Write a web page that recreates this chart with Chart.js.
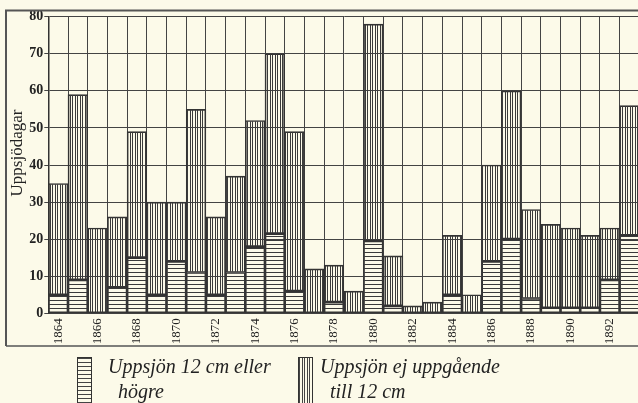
<!DOCTYPE html>
<html>
<head>
<meta charset="utf-8">
<script src="https://cdn.jsdelivr.net/npm/chart.js@4.4.0/dist/chart.umd.min.js"></script>
<style>
  html, body { margin: 0; padding: 0; background: #fcfae9; }
  #wrap { position: relative; width: 638px; height: 403px; overflow: hidden; }
  #c { position: absolute; left: 0; top: 0; }
  .sw { position: absolute; top: 357px; width: 15px; height: 50px; border: 1px solid #333; box-sizing: border-box; }
  .sw.h { background: repeating-linear-gradient(to bottom, #444 0 1px, transparent 1px 4px); }
  .sw.v { background: repeating-linear-gradient(to right, #444 0 1px, transparent 1px 2.5px); }
  .lg { position: absolute; font: italic 20px "Liberation Serif", serif; color: #222; line-height: 22px; white-space: nowrap; }
</style>
</head>
<body>
<div id="wrap">
  <canvas id="c" width="660" height="403"></canvas>
  <div class="sw h" style="left:77px"></div>
  <div class="lg" style="left:108px; top:355px">Uppsjön 12 cm eller</div>
  <div class="lg" style="left:118px; top:380px">högre</div>
  <div class="sw v" style="left:298px"></div>
  <div class="lg" style="left:320px; top:355px">Uppsjön ej uppgående</div>
  <div class="lg" style="left:330px; top:380px">till 12 cm</div>
</div>
<script>
// years on the x axis (the last one is cut off at the right edge)
const years = ['1864', '1865', '1866', '1867', '1868', '1869', '1870', '1871', '1872', '1873',
               '1874', '1875', '1876', '1877', '1878', '1879', '1880', '1881', '1882', '1883',
               '1884', '1885', '1886', '1887', '1888', '1889', '1890', '1891', '1892', '1893'];

// days with ice of 12 cm or more (horizontal hatch, bottom of each bar)
const hogre = [5, 9, 0, 7, 15, 5, 14, 11, 5, 11,
               18, 21.5, 6, 0, 3, 0, 19.5, 2, 0, 0,
               5, 0, 14, 20, 4, 1.5, 1.5, 1.5, 9, 21];

// days with ice below 12 cm (vertical hatch, stacked on top)
const lagre = [30, 50, 23, 19, 34, 25, 16, 44, 21, 26,
               34, 48.5, 43, 12, 10, 6, 58.5, 13.5, 2, 3,
               16, 5, 26, 40, 24, 22.5, 21.5, 19.5, 14, 35];

const yTitle = 'Uppsjödagar';

const ink = '#333';

// hatch fills
const hatch = (dir) => {
  const c = document.createElement('canvas');
  const g = c.getContext('2d');
  if (dir === 'h') {
    c.width = 4; c.height = 4;
    g.fillStyle = '#3a3a3a';
    g.fillRect(0, 0, 4, 1);
  } else {
    c.width = 5; c.height = 5;
    g.fillStyle = '#3a3a3a';
    g.fillRect(0, 0, 1, 5);
    g.fillRect(2, 0, 1, 5);
  }
  return g.createPattern(c, 'repeat');
};

// outer frame and rotated axis title
const framePlugin = {
  id: 'frame',
  afterDraw(chart) {
    const ctx = chart.ctx;
    ctx.save();
    ctx.strokeStyle = '#555';
    ctx.lineWidth = 2;
    ctx.beginPath();
    ctx.moveTo(6, 346); ctx.lineTo(6, 10.5); ctx.lineTo(chart.width, 10.5);
    ctx.stroke();
    ctx.lineWidth = 1.5;
    ctx.beginPath();
    ctx.moveTo(6, 346); ctx.lineTo(chart.width, 346);
    ctx.stroke();

    ctx.translate(18, 153);
    ctx.rotate(-Math.PI / 2);
    ctx.font = '17px "Liberation Serif", serif';
    ctx.fillStyle = '#222';
    ctx.textAlign = 'center';
    ctx.textBaseline = 'middle';
    ctx.fillText(yTitle, 0, 0);
    ctx.restore();
  }
};

new Chart(document.getElementById('c'), {
  type: 'bar',
  data: {
    labels: years,
    datasets: [
      {
        label: 'Uppsjön 12 cm eller högre',
        data: hogre,
        backgroundColor: hatch('h'),
        borderColor: ink,
        borderWidth: 1,
        borderSkipped: false
      },
      {
        label: 'Uppsjön ej uppgående till 12 cm',
        data: lagre,
        backgroundColor: hatch('v'),
        borderColor: ink,
        borderWidth: 1,
        borderSkipped: false
      }
    ]
  },
  options: {
    responsive: false,
    animation: false,
    layout: { padding: { top: 16.7, right: 20.7, bottom: 0, left: 0 } },
    datasets: { bar: { barPercentage: 1, categoryPercentage: 1 } },
    plugins: { legend: { display: false }, tooltip: { enabled: false } },
    scales: {
      x: {
        stacked: true,
        afterFit: s => { s.height = 89.7; },
        grid: { color: '#444', drawTicks: false },
        border: { color: '#444' },
        ticks: {
          autoSkip: false,
          minRotation: 90,
          maxRotation: 90,
          padding: 5,
          color: '#222',
          font: { family: '"Liberation Serif", serif', size: 13 },
          callback: (v, i) => (Number(years[i]) % 2 === 0 ? years[i] : '')
        }
      },
      y: {
        stacked: true,
        min: 0,
        max: 80,
        afterFit: s => { s.width = 48.3; },
        grid: { color: '#444', tickLength: 4 },
        border: { color: '#333', width: 1.5 },
        ticks: {
          stepSize: 10,
          padding: 1,
          color: '#222',
          font: { family: '"Liberation Serif", serif', size: 14, weight: 'bold' }
        }
      }
    }
  },
  plugins: [framePlugin]
});
</script>
</body>
</html>
